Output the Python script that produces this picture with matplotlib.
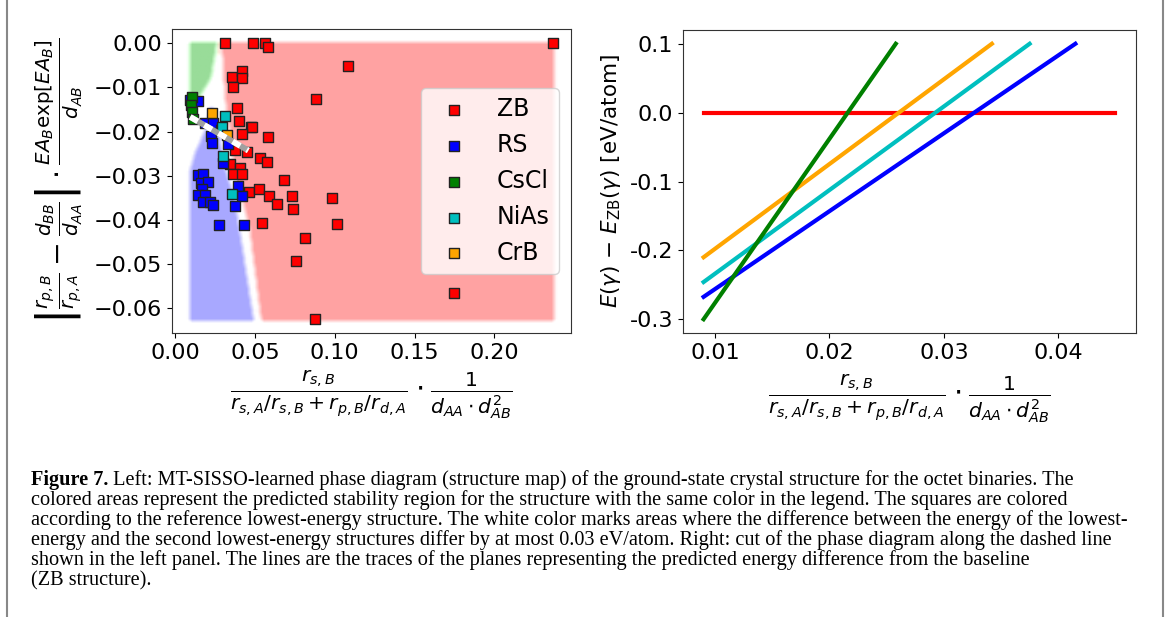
import numpy as np
import matplotlib
matplotlib.use('Agg')
import matplotlib.pyplot as plt
from matplotlib.lines import Line2D

# ---------------- left panel: reference structures ----------------
zb_x = [0.0313, 0.049, 0.0563, 0.0579, 0.2365, 0.108, 0.0354, 0.042, 0.042, 0.0365,
        0.088, 0.039, 0.040, 0.0473, 0.0483, 0.042, 0.0583, 0.0375, 0.0448, 0.053,
        0.0573, 0.0344, 0.0406, 0.0365, 0.042, 0.068, 0.046, 0.0523, 0.059, 0.0635,
        0.0735, 0.074, 0.0983, 0.0546, 0.1015, 0.0815, 0.076, 0.175, 0.0877]
zb_y = [0.0, 0.0, 0.0, -0.0009, 0.0, -0.0051, -0.0077, -0.0063, -0.0079, -0.0100,
        -0.0126, -0.0147, -0.0177, -0.0190, -0.0189, -0.0206, -0.0213, -0.0241, -0.0247, -0.0259,
        -0.0270, -0.0274, -0.0283, -0.0296, -0.0296, -0.0309, -0.0338, -0.0330, -0.0347, -0.0363,
        -0.0345, -0.0375, -0.0351, -0.0406, -0.0410, -0.0442, -0.0492, -0.0566, -0.0624]

rs_x = [0.0094, 0.0146, 0.0188, 0.024, 0.0225, 0.0229, 0.0333, 0.0298, 0.0146, 0.0177,
        0.016, 0.0208, 0.017, 0.0146, 0.0188, 0.0177, 0.0215, 0.024, 0.0396, 0.0417,
        0.0375, 0.0275, 0.0431, 0.0285]
rs_y = [-0.0128, -0.0130, -0.0181, -0.0181, -0.0210, -0.0226, -0.0228, -0.0271, -0.0299, -0.0296,
        -0.0317, -0.0315, -0.0330, -0.0343, -0.0343, -0.0360, -0.0360, -0.0366, -0.0324, -0.0347,
        -0.0368, -0.0411, -0.0411, -0.0196]

cscl_x = [0.0104, 0.0098, 0.0104, 0.011]
cscl_y = [-0.0121, -0.0140, -0.0155, -0.0172]

nias_x = [0.0313, 0.0292, 0.0302, 0.0354]
nias_y = [-0.0164, -0.0190, -0.0256, -0.0341]

crb_x = [0.0229, 0.0327]
crb_y = [-0.0158, -0.0207]

# dashed cut line
cut_x = [0.0094, 0.0458]
cut_y = [-0.0167, -0.0243]

# predicted region boundaries (y ascending)
map_x0, map_x1 = 0.008, 0.238
map_y0, map_y1 = -0.063, 0.0005
red_left_y = [-0.063, -0.042, -0.0347, -0.027, -0.0197, -0.012, 0.0005]
red_left_x = [0.053, 0.0456, 0.0406, 0.0355, 0.033, 0.030, 0.028]
blue_right_y = [-0.063, -0.042, -0.0347, -0.027, -0.0197, -0.014]
blue_right_x = [0.050, 0.041, 0.0375, 0.031, 0.028, 0.024]
blue_left_y = [-0.063, -0.029, -0.025, -0.0197, -0.014]
blue_left_x = [0.008, 0.008, 0.011, 0.0175, 0.021]
blue_top = -0.014
green_right_y = [-0.016, -0.012, -0.008, 0.0005]
green_right_x = [0.010, 0.016, 0.023, 0.027]
green_bottom = -0.016

# ---------------- right panel: energy traces ----------------
line_zb_x = [0.009, 0.045]
line_zb_y = [0.0, 0.0]
line_rs_x = [0.009, 0.0415]
line_rs_y = [-0.2675, 0.10]
line_nias_x = [0.009, 0.0375]
line_nias_y = [-0.246, 0.10]
line_crb_x = [0.009, 0.0342]
line_crb_y = [-0.21, 0.10]
line_cscl_x = [0.009, 0.0258]
line_cscl_y = [-0.30, 0.10]
right_yticks = [-0.3, -0.2, -0.1, 0.0, 0.1]
right_yticklabels = ['-0.3', '-0.2', '-0.1', '0.0', '0.1']

caption = [
    "colored areas represent the predicted stability region for the structure with the same color in the legend. The squares are colored",
    "according to the reference lowest-energy structure. The white color marks areas where the difference between the energy of the lowest-",
    "energy and the second lowest-energy structures differ by at most 0.03 eV/atom. Right: cut of the phase diagram along the dashed line",
    "shown in the left panel. The lines are the traces of the planes representing the predicted energy difference from the baseline",
    "(ZB structure).",
]
caption_head = "Figure 7."
caption_first = " Left: MT-SISSO-learned phase diagram (structure map) of the ground-state crystal structure for the octet binaries. The"

xlab = r'$\frac{r_{s,B}}{r_{s,A}/r_{s,B}+r_{p,B}/r_{d,A}}\cdot\frac{1}{d_{AA}\cdot d_{AB}^2}$'
ylab_left = r'$\left|\frac{r_{p,B}}{r_{p,A}}-\frac{d_{BB}}{d_{AA}}\right|\cdot\frac{EA_B\exp[EA_B]}{d_{AB}}$'
ylab_right = r'$E(\gamma)$ $-$ $E_{\mathrm{ZB}}(\gamma)$ [eV/atom]'

fig = plt.figure(figsize=(11.7, 6.17), dpi=100)
W, H = 1170, 617

ax1 = fig.add_axes([172 / W, 1 - 333 / H, 399 / W, 304 / H])
ax2 = fig.add_axes([683 / W, 1 - 333 / H, 453 / W, 303 / H])

# region map
dx, dy = 0.001, 0.00025
gx = np.arange(map_x0, map_x1, dx) + dx / 2
gy = np.arange(map_y0, map_y1, dy) + dy / 2
X, Y = np.meshgrid(gx, gy)
rgb = np.ones(X.shape + (3,))
red = X >= np.interp(Y, red_left_y, red_left_x)
blue = ((X >= np.interp(Y, blue_left_y, blue_left_x)) & (X <= np.interp(Y, blue_right_y, blue_right_x))
        & (Y <= blue_top))
green = (X <= np.interp(Y, green_right_y, green_right_x)) & (Y >= green_bottom) & ~red
rgb[red] = (1.0, 0.53, 0.53)
rgb[blue & ~red] = (0.55, 0.55, 1.0)
rgb[green] = (0.5, 0.72, 0.5)
px, py = 4, 5
rgb = np.pad(rgb, ((py, py), (px, px), (0, 0)), constant_values=1.0)
sm = np.zeros_like(rgb)
for i in range(-px // 2, px // 2 + 1):
    for j in range(-py // 2, py // 2 + 1):
        sm += np.roll(np.roll(rgb, i, axis=1), j, axis=0)
sm /= (px // 2 * 2 + 1) * (py // 2 * 2 + 1)
ax1.imshow(sm, extent=[map_x0 - px * dx, map_x1 + px * dx, map_y0 - py * dy, map_y1 + py * dy],
           origin='lower', aspect='auto', interpolation='bilinear', zorder=0)

mk = dict(marker='s', s=55, edgecolors='#222222', linewidths=1.0, zorder=3)
ax1.scatter(zb_x, zb_y, c='red', label='ZB', **mk)
ax1.scatter(rs_x, rs_y, c='blue', label='RS', **mk)
ax1.scatter(cscl_x, cscl_y, c='green', label='CsCl', **mk)
ax1.scatter(nias_x, nias_y, c='c', label='NiAs', **mk)
ax1.scatter(crb_x, crb_y, c='orange', label='CrB', **mk)
ax1.plot(cut_x, cut_y, color='#a0a0a0', lw=4.2, solid_capstyle='butt', zorder=4)
ax1.plot(cut_x, cut_y, color='white', lw=4.2, dashes=(1.5, 1.3), zorder=5)

ax1.set_xlim(-0.002, 0.248)
ax1.set_ylim(-0.0656, 0.0032)
ax1.set_xticks([0.0, 0.05, 0.10, 0.15, 0.20])
ax1.set_yticks([0.0, -0.01, -0.02, -0.03, -0.04, -0.05, -0.06])
ax1.tick_params(labelsize=16)
leg = ax1.legend(loc='center right', fontsize=17, scatterpoints=1, framealpha=0.8,
                 borderaxespad=0.5)
ax1.set_xlabel(xlab, fontsize=21)
ax1.xaxis.set_label_coords(0.5, -0.115)
ax1.set_ylabel(ylab_left, fontsize=20.5)
ax1.yaxis.set_label_coords(-0.218, 0.5)

# right panel
ax2.plot(line_zb_x, line_zb_y, color='red', lw=3)
ax2.plot(line_rs_x, line_rs_y, color='blue', lw=3)
ax2.plot(line_nias_x, line_nias_y, color='c', lw=3)
ax2.plot(line_crb_x, line_crb_y, color='orange', lw=3)
ax2.plot(line_cscl_x, line_cscl_y, color='green', lw=3)
ax2.set_xticks([0.01, 0.02, 0.03, 0.04])
ax2.set_yticks(right_yticks)
ax2.set_yticklabels(right_yticklabels)
ax2.tick_params(labelsize=16)
ax2.set_xlabel(xlab, fontsize=21)
ax2.xaxis.set_label_coords(0.5, -0.128)
ax2.set_ylabel(ylab_right, fontsize=15.5)
ax2.yaxis.set_label_coords(-0.132, 0.5)
for a in (ax1, ax2):
    for sp in a.spines.values():
        sp.set_color('#333333')

# side rules of the figure box
fig.add_artist(Line2D([7 / W, 7 / W], [0, 1], transform=fig.transFigure, color='#888888', lw=1.5))
fig.add_artist(Line2D([1163 / W, 1163 / W], [0, 1], transform=fig.transFigure, color='#888888', lw=1.5))

# caption
cap_font = dict(family='Liberation Serif', fontsize=14.6, va='baseline', ha='left')
x0 = 31 / W
base = [485, 505.5, 525.5, 545.5, 565.5, 585.5]
t = fig.text(x0, 1 - base[0] / H, caption_head, fontweight='bold', **cap_font)
fig.canvas.draw()
bb = t.get_window_extent(renderer=fig.canvas.get_renderer())
fig.text(bb.x1 / W, 1 - base[0] / H, caption_first, **cap_font)
for line, b in zip(caption, base[1:]):
    fig.text(x0, 1 - b / H, line, **cap_font)

fig.savefig('out.png', dpi=100)
